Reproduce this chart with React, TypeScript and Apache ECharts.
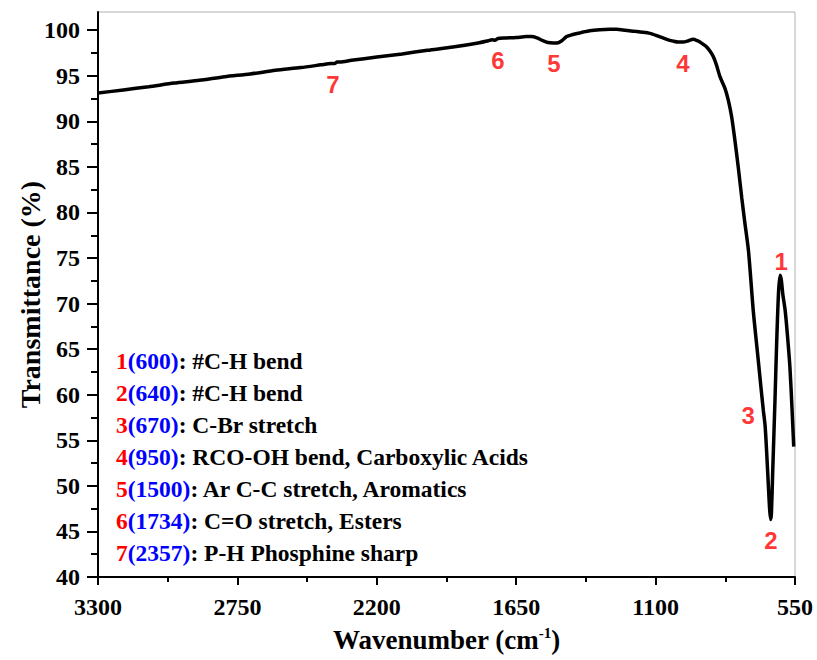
import React, { useEffect, useRef } from 'react';
import * as echarts from 'echarts';

// Spectrum (wavenumber in cm-1, transmittance in %)
const wavenumbers = [
  3300, 3200, 3100, 3000, 2900, 2800, 2700, 2600, 2500, 2420, 2380, 2365, 2357, 2345, 2300,
  2200, 2100, 2000, 1900, 1800, 1760, 1745, 1734, 1722, 1690, 1650, 1610, 1590, 1568, 1545,
  1525, 1505, 1489, 1470, 1451, 1430, 1400, 1386, 1360, 1320, 1280, 1254, 1220, 1189, 1160,
  1122, 1090, 1056, 1030, 1011, 992, 970, 952, 935, 925, 900, 885, 872, 860, 846,
  826, 813, 800, 787, 774, 760, 748, 734, 725, 715, 705, 695, 685, 675, 668,
  662, 655, 650, 646, 643, 638, 629, 622, 615, 609, 604, 598, 589, 580, 570,
  562, 555,
];
const transmittance = [
  93.1, 93.45, 93.8, 94.2, 94.5, 94.9, 95.2, 95.6, 95.9, 96.2, 96.35, 96.35, 96.5, 96.5, 96.7,
  97.05, 97.4, 97.8, 98.15, 98.6, 98.85, 98.95, 98.9, 99.1, 99.15, 99.2, 99.3, 99.3, 99.15, 98.85,
  98.65, 98.6, 98.6, 98.85, 99.3, 99.5, 99.7, 99.8, 99.95, 100.05, 100.1, 100.1, 100.0, 99.9, 99.8,
  99.65, 99.35, 99.0, 98.8, 98.7, 98.7, 98.85, 99.0, 98.85, 98.7, 98.2, 97.7, 97.1, 96.2, 94.9,
  93.6, 92.3, 90.5, 87.9, 85.0, 81.6, 78.9, 75.9, 72.9, 69.3, 66.5, 63.8, 61.0, 58.3, 56.6,
  53.8, 50.0, 47.4, 46.3, 47.0, 51.5, 59.4, 66.0, 71.2, 73.1, 72.6, 71.0, 69.3, 66.6, 63.0,
  58.6, 54.3,
];

// Peak number labels placed on the spectrum
const peakLabelX = [605, 645, 735, 992, 1501, 1722, 2373];
const peakLabelY = [74.6, 44.0, 57.7, 96.3, 96.3, 96.7, 94.0];
const peakLabelText = ['1', '2', '3', '4', '5', '6', '7'];

// Assignment table
const assignNumbers = ['1', '2', '3', '4', '5', '6', '7'];
const assignWavenumbers = ['600', '640', '670', '950', '1500', '1734', '2357'];
const assignDescriptions = [
  '#C-H bend',
  '#C-H bend',
  'C-Br stretch',
  'RCO-OH bend, Carboxylic Acids',
  'Ar C-C stretch, Aromatics',
  'C=O stretch, Esters',
  'P-H Phosphine sharp',
];

// Axis ticks
const xTicks = [550, 1100, 1650, 2200, 2750, 3300];
const yTicks = [40, 45, 50, 55, 60, 65, 70, 75, 80, 85, 90, 95, 100];
const yMinorTicks = [42.5, 47.5, 52.5, 57.5, 62.5, 67.5, 72.5, 77.5, 82.5, 87.5, 92.5, 97.5];

export default function App() {
  const ref = useRef<HTMLDivElement>(null);

  useEffect(() => {
    if (!ref.current) return;
    const chart = echarts.init(ref.current, null, { renderer: 'svg' });
    const serif = 'Liberation Serif';
    const sans = 'Liberation Sans';

    const spectrum = wavenumbers.map((w, i) => [w, transmittance[i]]);
    const peakData = peakLabelX.map((w, i) => [w, peakLabelY[i], peakLabelText[i]]);

    const fs = 23.5;
    const graphics = assignNumbers.map((n, i) => ({
      type: 'text',
      left: 116,
      top: 349 + i * 32,
      silent: true,
      style: {
        text: `{r|${n}}{b|(${assignWavenumbers[i]})}{k|: ${assignDescriptions[i]}}`,
        fontFamily: serif,
        fontWeight: 'bold',
        fontSize: fs,
        rich: {
          r: { fill: '#ff0000', fontFamily: serif, fontWeight: 'bold', fontSize: fs },
          b: { fill: '#0000ff', fontFamily: serif, fontWeight: 'bold', fontSize: fs },
          k: { fill: '#000000', fontFamily: serif, fontWeight: 'bold', fontSize: fs },
        },
      },
    }));

    const option: any = {
      animation: false,
      backgroundColor: '#ffffff',
      grid: {
        left: 98,
        right: 22,
        top: 12,
        bottom: 82,
        show: true,
        borderColor: '#b0b0b0',
        borderWidth: 1,
        backgroundColor: 'transparent',
      },
      xAxis: {
        type: 'value',
        inverse: true,
        min: 550,
        max: 3300,
        interval: 550,
        name: 'Wavenumber (cm{sup|-1})',
        nameLocation: 'middle',
        nameGap: 48,
        nameTextStyle: {
          fontFamily: serif,
          fontWeight: 'bold',
          fontSize: 27,
          color: '#000',
          lineHeight: 30,
          rich: {
            sup: { fontFamily: serif, fontWeight: 'bold', fontSize: 15, color: '#000', verticalAlign: 'top', lineHeight: 30, padding: [0, 0, 10, 0] },
          },
        },
        axisLine: { show: true, onZero: false, lineStyle: { color: '#000', width: 2 } },
        axisTick: { show: true, customValues: xTicks, length: 8, lineStyle: { color: '#000', width: 2 } },
        minorTick: { show: true, splitNumber: 2, length: 5, lineStyle: { color: '#000', width: 2 } },
        axisLabel: {
          customValues: xTicks,
          formatter: (v: number) => String(v),
          margin: 18,
          fontFamily: serif,
          fontWeight: 'bold',
          fontSize: 24,
          color: '#000',
        },
        splitLine: { show: false },
        minorSplitLine: { show: false },
      },
      yAxis: [
        {
          type: 'value',
          min: 40,
          max: 102,
          interval: 5,
          position: 'left',
          name: 'Transmittance (%)',
          nameLocation: 'middle',
          nameGap: 54,
          nameMoveOverlap: false,
          nameTextStyle: { fontFamily: serif, fontWeight: 'bold', fontSize: 28, color: '#000' },
          axisLine: { show: true, onZero: false, lineStyle: { color: '#000', width: 2 } },
          axisTick: { show: true, customValues: yTicks, length: 11, lineStyle: { color: '#000', width: 2 } },
          axisLabel: {
            customValues: yTicks,
            formatter: (v: number) => String(v),
            margin: 18,
            fontFamily: serif,
            fontWeight: 'bold',
            fontSize: 24,
            color: '#000',
          },
          splitLine: { show: false },
        },
        {
          type: 'value',
          min: 40,
          max: 102,
          interval: 5,
          position: 'left',
          axisLine: { show: false },
          axisTick: { show: true, customValues: yMinorTicks, length: 7, lineStyle: { color: '#000', width: 2 } },
          axisLabel: { show: false },
          splitLine: { show: false },
        },
      ],
      series: [
        {
          type: 'line',
          data: spectrum,
          yAxisIndex: 0,
          smooth: 0.25,
          showSymbol: false,
          symbol: 'none',
          lineStyle: { color: '#000', width: 3.5 },
          silent: true,
          z: 3,
        },
        {
          type: 'scatter',
          data: peakData,
          yAxisIndex: 0,
          symbol: 'circle',
          symbolSize: 1,
          itemStyle: { color: 'rgba(0,0,0,0)' },
          silent: true,
          label: {
            show: true,
            position: 'inside',
            formatter: (p: any) => p.value[2],
            fontFamily: sans,
            fontWeight: 'bold',
            fontSize: 24,
            color: '#ff0000',
          },
          z: 4,
        },
      ],
      graphic: graphics,
    };

    chart.setOption(option);
    return () => chart.dispose();
  }, []);

  return (
    <div
      ref={ref}
      style={{ position: 'fixed', left: 0, top: 0, width: 817, height: 660, background: '#fff' }}
    />
  );
}
